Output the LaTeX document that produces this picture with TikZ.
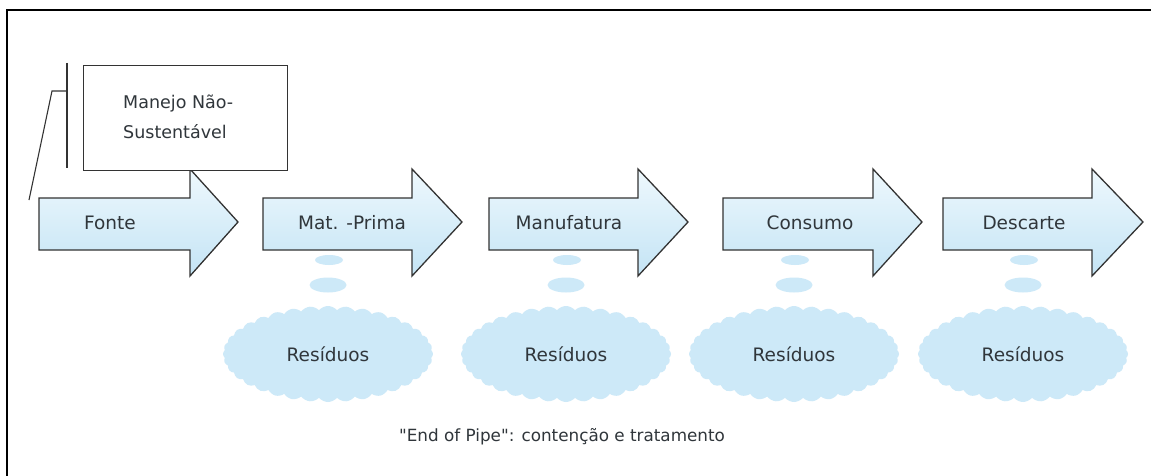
\documentclass[tikz,border=0pt]{standalone}
\usepackage{fontspec}
\usetikzlibrary{shapes.symbols,shapes.geometric}
\newfontfamily\lblfont{DejaVu Sans}
\definecolor{ink}{HTML}{333333}
\definecolor{txt}{HTML}{30363B}
\definecolor{arrowtop}{HTML}{EEF8FD}
\definecolor{arrowbot}{HTML}{C4E4F5}
\definecolor{wastefill}{HTML}{CDE9F8}
\tikzset{
  stage/.style={draw=ink, line width=1.3pt, line join=miter, top color=arrowtop, bottom color=arrowbot},
  stagetext/.style={font=\lblfont\fontsize{18.5}{20}\selectfont, text=txt, inner sep=0pt},
  bubble/.style={ellipse, fill=wastefill, draw=none, inner sep=0pt},
  waste/.style={cloud, cloud puffs=36, cloud puff arc=100, fill=wastefill, draw=none,
    minimum width=210pt, minimum height=96pt, aspect=2.2,
    font=\lblfont\fontsize{18.5}{20}\selectfont, text=txt},
  bracket/.style={draw=ink, line width=1.1pt},
}
\begin{document}
\begin{tikzpicture}[x=1pt, y=-1pt]
\useasboundingbox (0,0) rectangle (1151,476);
\fill[white] (0,0) rectangle (1151,476);

% outer frame (top and left edges)
\draw[black, line width=2pt] (7,476) -- (7,10) -- (1151,10);

% process arrows: body left, head base, tip
\foreach \name/\l/\h/\t in {fonte/39/190/238, mat/263/412/462, manu/489/638/688, cons/723/873/922, desc/943/1092/1143}{
  \path[stage] (\l,198) -- (\h,198) -- (\h,169) -- (\t,222) -- (\h,276) -- (\h,250) -- (\l,250) -- cycle;
}
\node[stagetext] (fonte) at (110,223) {Fonte};
\node[stagetext] (mat)   at (352,223) {Mat. -Prima};
\node[stagetext] (manu)  at (569,223) {Manufatura};
\node[stagetext] (cons)  at (810,223) {Consumo};
\node[stagetext] (desc)  at (1024,223) {Descarte};

% box with bracket
\node[draw=ink, line width=1.3pt, fill=white, minimum width=204pt, minimum height=105pt,
      inner sep=0pt, anchor=north west] (manejo) at (83,65) {};
\node[stagetext, align=left, anchor=west, font=\lblfont\fontsize{17.5}{30}\selectfont] (manejotxt)
  at (123,117) {Manejo Não-\\Sustentável};
\coordinate (bt) at (67,63);
\coordinate (bb) at (67,168);
\coordinate (bk) at (52,91);
\coordinate (bf) at (29,200);
\draw[bracket] (bt) -- (bb);
\draw[bracket] (bf) -- (bk) -- (bk -| bt);

% residue clouds with bubbles
\foreach \name/\cx in {r1/329, r2/567, r3/795, r4/1024}{
  \node[bubble, minimum width=28pt, minimum height=10pt] (\name a) at (\cx,260) {};
  \node[bubble, minimum width=37pt, minimum height=15pt] (\name b) at (\cx-1,285) {};
  \node[waste] (\name) at (\cx-1,354) {Resíduos};
}

\node[font=\lblfont\fontsize{16.8}{18}\selectfont, text=txt] (caption) at (562,437)
  {"End of Pipe": contenção e tratamento};
\end{tikzpicture}
\end{document}
